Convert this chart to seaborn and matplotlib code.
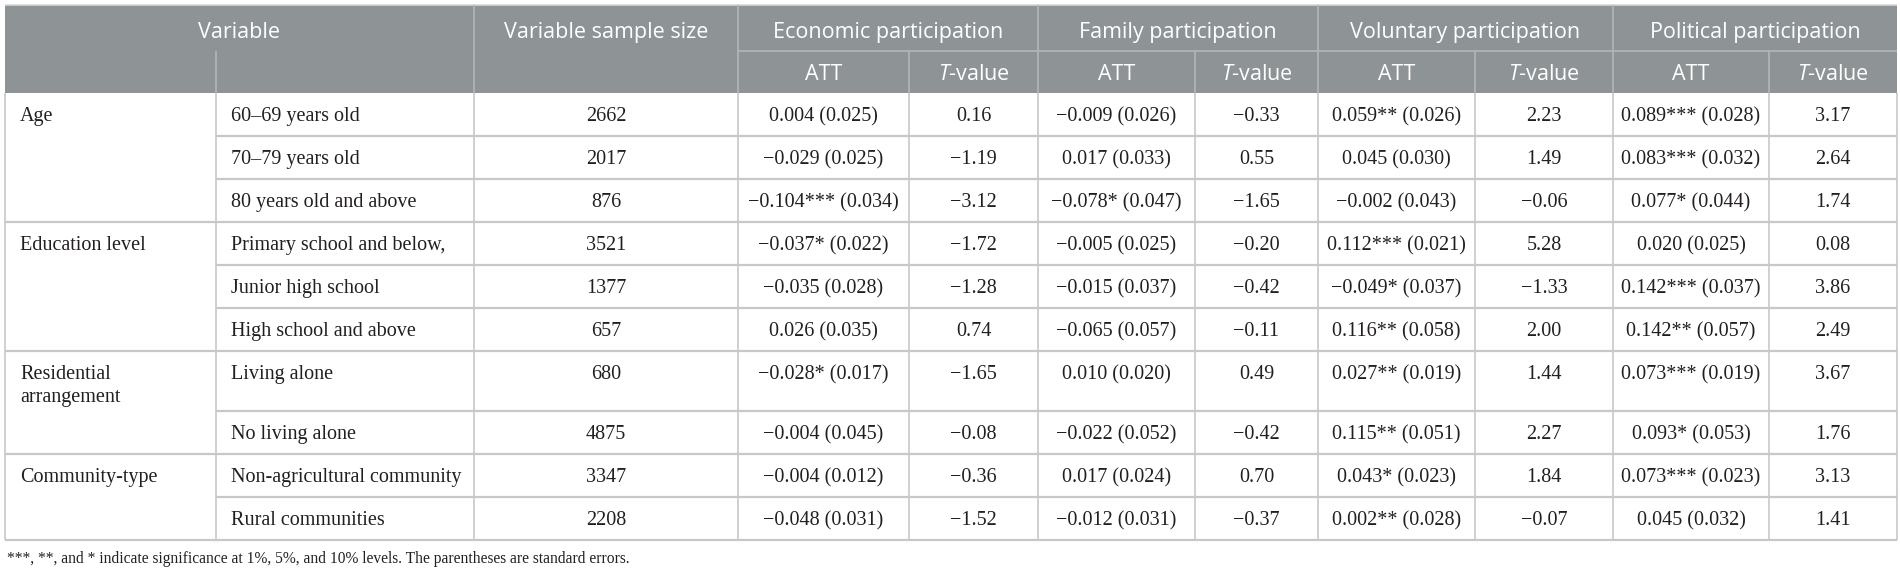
import matplotlib.pyplot as plt
import seaborn as sns
from matplotlib.patches import Rectangle

# ---- table content ----
groups = ["Age", "Education level", "Residential\narrangement", "Community-type"]
group_sizes = [3, 3, 2, 2]
subgroups = [
    "60–69 years old", "70–79 years old", "80 years old and above",
    "Primary school and below,", "Junior high school", "High school and above",
    "Living alone", "No living alone",
    "Non-agricultural community", "Rural communities",
]
sample_size = [2662, 2017, 876, 3521, 1377, 657, 680, 4875, 3347, 2208]

domains = ["Economic participation", "Family participation",
           "Voluntary participation", "Political participation"]

econ_att = [0.004, -0.029, -0.104, -0.037, -0.035, 0.026, -0.028, -0.004, -0.004, -0.048]
econ_stars = ["", "", "***", "*", "", "", "*", "", "", ""]
econ_se = [0.025, 0.025, 0.034, 0.022, 0.028, 0.035, 0.017, 0.045, 0.012, 0.031]
econ_t = [0.16, -1.19, -3.12, -1.72, -1.28, 0.74, -1.65, -0.08, -0.36, -1.52]

family_att = [-0.009, 0.017, -0.078, -0.005, -0.015, -0.065, 0.010, -0.022, 0.017, -0.012]
family_stars = ["", "", "*", "", "", "", "", "", "", ""]
family_se = [0.026, 0.033, 0.047, 0.025, 0.037, 0.057, 0.020, 0.052, 0.024, 0.031]
family_t = [-0.33, 0.55, -1.65, -0.20, -0.42, -0.11, 0.49, -0.42, 0.70, -0.37]

volun_att = [0.059, 0.045, -0.002, 0.112, -0.049, 0.116, 0.027, 0.115, 0.043, 0.002]
volun_stars = ["**", "", "", "***", "*", "**", "**", "**", "*", "**"]
volun_se = [0.026, 0.030, 0.043, 0.021, 0.037, 0.058, 0.019, 0.051, 0.023, 0.028]
volun_t = [2.23, 1.49, -0.06, 5.28, -1.33, 2.00, 1.44, 2.27, 1.84, -0.07]

polit_att = [0.089, 0.083, 0.077, 0.020, 0.142, 0.142, 0.073, 0.093, 0.073, 0.045]
polit_stars = ["***", "***", "*", "", "***", "**", "***", "*", "***", ""]
polit_se = [0.028, 0.032, 0.044, 0.025, 0.037, 0.057, 0.019, 0.053, 0.023, 0.032]
polit_t = [3.17, 2.64, 1.74, 0.08, 3.86, 2.49, 3.67, 1.76, 3.13, 1.41]

footnote = ("***, **, and * indicate significance at 1%, 5%, and 10% levels. "
            "The parentheses are standard errors.")

# ---- layout (pixels) ----
col_edges = [5, 216, 474, 738, 909, 1038, 1195, 1318, 1475, 1613, 1769, 1897]
row_heights = [43, 43, 43, 43, 43, 43, 60, 43, 43, 43]
table_top, head_mid, head_bot = 5, 51, 93

head_color = "#8e9396"
head_line = "#b3b7b9"
body_line = "#c8c8c8"
text_color = "#231f20"

sns.set_theme(style="white")
plt.rcParams["font.family"] = ["Liberation Serif", "DejaVu Serif"]
plt.rcParams["mathtext.fontset"] = "custom"
plt.rcParams["mathtext.rm"] = "Open Sans"
plt.rcParams["mathtext.it"] = "Open Sans:italic"


def fmt(v, nd):
    return f"{v:.{nd}f}".replace("-", "−")


def att_label(v, stars, se):
    return fmt(v, 3) + stars + " (" + fmt(se, 3) + ")"


fig = plt.figure(figsize=(19, 5.74), dpi=100)
ax = fig.add_axes([0, 0, 1, 1])
ax.set_xlim(0, 1900)
ax.set_ylim(574, 0)
ax.axis("off")

# header block
ax.add_patch(Rectangle((col_edges[0], table_top), col_edges[-1] - col_edges[0],
                       head_bot - table_top, color=head_color, lw=0))
ax.hlines(table_top, col_edges[0], col_edges[-1], color="#d5d7d8", lw=1.2)
ax.hlines(head_mid, col_edges[3], col_edges[-1], color=head_line, lw=1.2)
for x in [col_edges[2], col_edges[3], col_edges[5], col_edges[7], col_edges[9]]:
    ax.vlines(x, table_top, head_bot, color=head_line, lw=1.2)
for x in [col_edges[1], col_edges[4], col_edges[6], col_edges[8], col_edges[10]]:
    ax.vlines(x, head_mid, head_bot, color=head_line, lw=1.2)

hfont = dict(family=["Open Sans", "DejaVu Sans"], fontsize=15.5, color="white",
             ha="center", va="baseline")
ax.text((col_edges[0] + col_edges[2]) / 2, 38, "Variable", **hfont)
ax.text((col_edges[2] + col_edges[3]) / 2, 38, "Variable sample size", **hfont)
for i, d in enumerate(domains):
    x0, x1, x2 = col_edges[3 + 2 * i], col_edges[4 + 2 * i], col_edges[5 + 2 * i]
    ax.text((x0 + x2) / 2, 38, d, **hfont)
    ax.text((x0 + x1) / 2, 80, "ATT", **hfont)
    ax.text((x1 + x2) / 2, 80, "$T$-value", **hfont)

# body
row_tops = [head_bot]
for h in row_heights:
    row_tops.append(row_tops[-1] + h)
group_starts = [0]
for n in group_sizes:
    group_starts.append(group_starts[-1] + n)

for x in col_edges:
    ax.vlines(x, head_bot, row_tops[-1], color=body_line, lw=1.2)
for r, y in enumerate(row_tops[1:], start=1):
    x_start = col_edges[0] if r in group_starts else col_edges[1]
    ax.hlines(y, x_start, col_edges[-1], color=body_line, lw=1.6)

bfont = dict(fontsize=14.5, color=text_color, va="baseline")
for g, label in enumerate(groups):
    y = row_tops[group_starts[g]] + 28
    for k, line in enumerate(label.split("\n")):
        ax.text(col_edges[0] + 15, y + 23 * k, line, ha="left", **bfont)

domain_cols = [
    (econ_att, econ_stars, econ_se, econ_t),
    (family_att, family_stars, family_se, family_t),
    (volun_att, volun_stars, volun_se, volun_t),
    (polit_att, polit_stars, polit_se, polit_t),
]
for r in range(len(subgroups)):
    y = row_tops[r] + 28
    ax.text(col_edges[1] + 15, y, subgroups[r], ha="left", **bfont)
    ax.text((col_edges[2] + col_edges[3]) / 2, y, str(sample_size[r]), ha="center", **bfont)
    for i, (att, stars, se, tv) in enumerate(domain_cols):
        x0, x1, x2 = col_edges[3 + 2 * i], col_edges[4 + 2 * i], col_edges[5 + 2 * i]
        ax.text((x0 + x1) / 2, y, att_label(att[r], stars[r], se[r]), ha="center", **bfont)
        ax.text((x1 + x2) / 2, y, fmt(tv[r], 2), ha="center", **bfont)

ax.text(col_edges[0] + 2, 563, footnote, fontsize=11.2, color=text_color,
        ha="left", va="baseline")

fig.savefig("out.png", dpi=100)
